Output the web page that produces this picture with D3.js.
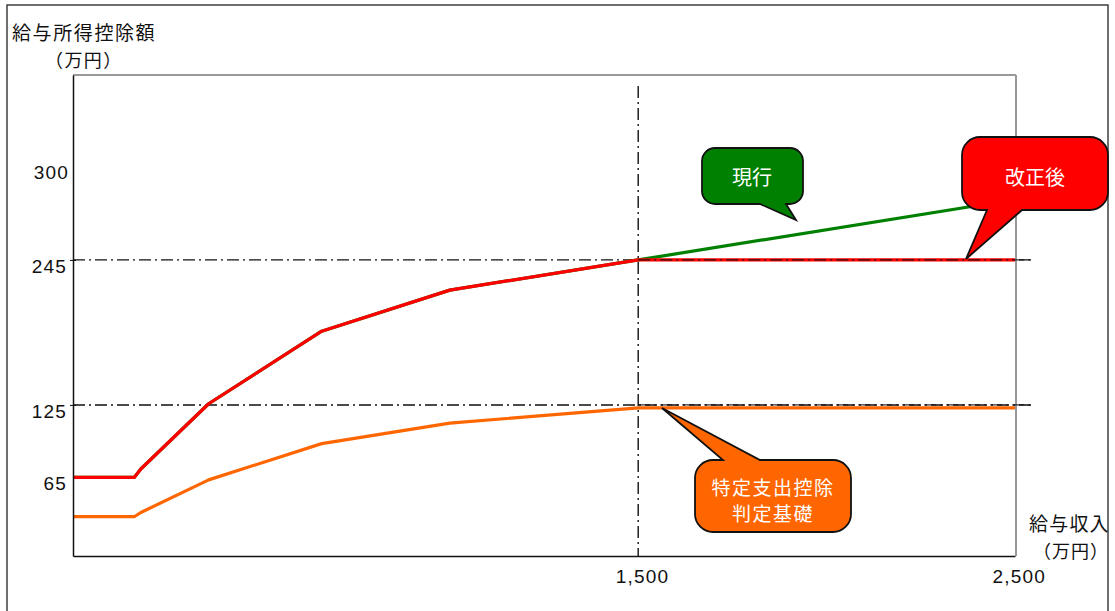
<!DOCTYPE html>
<html>
<head>
<meta charset="utf-8">
<script src="https://cdn.jsdelivr.net/npm/d3@7.9.0/dist/d3.min.js"></script>
<style>
  body { margin: 0; background: #fff; }
  svg { display: block; }
  .jp { font-family: "Noto Sans CJK JP", "Noto Sans", sans-serif; }
  .num { font-family: "Liberation Sans", Arial, sans-serif; letter-spacing: 1.2px; }
</style>
</head>
<body>
<svg id="chart" width="1115" height="611"></svg>
<script>
// income (万円) breakpoints
const incomes = [0, 162.5, 180, 360, 660, 1000, 1500, 2500];
// 給与所得控除額 under current rules (green) and after revision (red)
const currentDeduction = [65, 65, 72, 126, 186, 220, 245, 295];
const revisedDeduction = [65, 65, 72, 126, 186, 220, 245, 245];
// 特定支出控除 判定基礎 (orange)
const judgeBasis = [32.5, 32.5, 36, 63, 93, 110, 122.5, 122.5];

const yTickValues = [65, 125, 245];
const xTickValues = [1500, 2500];
const refLevels = [245, 125];
const refIncome = 1500;

const svg = d3.select('#chart');

const plotLeft = 73, plotRight = 1016, plotTop = 75, plotBottom = 556;
let x = d3.scaleLinear().domain([0, 2500]).range([plotLeft, 1015]);
let y = d3.scaleLinear().domain([0, 398]).range([plotBottom, plotTop]);

// outer frame
svg.append('rect')
  .attr('x', 7).attr('y', 5).attr('width', 1101).attr('height', 620)
  .attr('fill', 'none').attr('stroke', '#222').attr('stroke-width', 1.3);

// plot frame: gray top / right, black axis lines
svg.append('line').attr('x1', plotLeft).attr('x2', plotRight).attr('y1', plotTop).attr('y2', plotTop)
  .attr('stroke', '#999').attr('stroke-width', 2);
svg.append('line').attr('x1', plotRight).attr('x2', plotRight).attr('y1', plotTop).attr('y2', plotBottom)
  .attr('stroke', '#999').attr('stroke-width', 2);

// reference dash-dot lines
const dash = '12,4,2,4';
refLevels.forEach(v => {
  svg.append('line')
    .attr('x1', plotLeft).attr('x2', 1033)
    .attr('y1', y(v)).attr('y2', y(v))
    .attr('stroke', '#111').attr('stroke-width', 1.4)
    .attr('stroke-dasharray', dash);
});
svg.append('line')
  .attr('x1', x(refIncome)).attr('x2', x(refIncome))
  .attr('y1', 86).attr('y2', plotBottom)
  .attr('stroke', '#111').attr('stroke-width', 1.4)
  .attr('stroke-dasharray', dash);

// series lines
function drawLine(values, color) {
  const pts = incomes.map((d, i) => [d, values[i]]);
  svg.append('path')
    .datum(pts)
    .attr('fill', 'none')
    .attr('stroke', color)
    .attr('stroke-width', 3.2)
    .attr('stroke-linejoin', 'round')
    .attr('d', d3.line().x(d => x(d[0])).y(d => y(d[1])));
}
drawLine(judgeBasis, '#ff6600');
drawLine(currentDeduction, '#008000');
drawLine(revisedDeduction, '#ff0000');

// redraw dash-dot over the flat parts (as in the original)
refLevels.forEach(v => {
  svg.append('line')
    .attr('x1', x(refIncome)).attr('x2', 1033)
    .attr('y1', y(v)).attr('y2', y(v))
    .attr('stroke', '#111').attr('stroke-width', 1.2)
    .attr('stroke-dasharray', dash).attr('opacity', 0.85);
});

// axes
const yAxis = d3.axisLeft(y).tickValues(yTickValues).tickSize(0).tickFormat(d3.format(','));
const gy = svg.append('g').attr('transform', `translate(${plotLeft},0)`).call(yAxis);
gy.attr('font-family', null).attr('font-size', null);
gy.select('.domain').attr('stroke', '#111').attr('stroke-width', 1.5);
gy.selectAll('.tick text').attr('class', 'num').attr('font-size', 19).attr('fill', '#111')
  .attr('x', -6).attr('dy', '0.65em');
gy.selectAll('.tick').filter(d => d !== 65).append('line')
  .attr('x1', -3).attr('x2', 3).attr('stroke', '#111');

// the "300" label sits above its nominal level in the original
svg.append('text').attr('class', 'num')
  .attr('x', plotLeft - 4).attr('y', y(300) - 21)
  .attr('dy', '0.35em').attr('text-anchor', 'end')
  .attr('font-size', 19).attr('fill', '#111').text('300');

const xAxis = d3.axisBottom(x).tickValues(xTickValues).tickSize(0).tickFormat(d3.format(','));
const gx = svg.append('g').attr('transform', `translate(0,${plotBottom})`).call(xAxis);
gx.attr('font-family', null).attr('font-size', null);
gx.select('.domain').attr('stroke', '#111').attr('stroke-width', 1.5);
gx.selectAll('.tick text').attr('class', 'num').attr('font-size', 19).attr('fill', '#111')
  .attr('y', 14).attr('dx', '0.2em');

// axis titles
svg.append('text').attr('class', 'jp').attr('x', 12).attr('y', 31)
  .attr('dominant-baseline', 'central').attr('font-size', 19).attr('fill', '#111')
  .attr('letter-spacing', 1.6).text('給与所得控除額');
svg.append('text').attr('class', 'jp').attr('x', 45).attr('y', 59)
  .attr('dominant-baseline', 'central').attr('font-size', 18).attr('fill', '#111')
  .attr('letter-spacing', 1.4).text('（万円）');
svg.append('text').attr('class', 'jp').attr('x', 1029).attr('y', 522)
  .attr('dominant-baseline', 'central').attr('font-size', 19).attr('fill', '#111')
  .attr('letter-spacing', 1.2).text('給与収入');
svg.append('text').attr('class', 'jp').attr('x', 1033).attr('y', 550)
  .attr('dominant-baseline', 'central').attr('font-size', 18).attr('fill', '#111')
  .attr('letter-spacing', 1).text('（万円）');

// callouts
function bubbleBottom(bx, by, w, h, r, b1, b2, tip) {
  const p = d3.path();
  p.moveTo(bx + r, by);
  p.lineTo(bx + w - r, by);
  p.arcTo(bx + w, by, bx + w, by + r, r);
  p.lineTo(bx + w, by + h - r);
  p.arcTo(bx + w, by + h, bx + w - r, by + h, r);
  p.lineTo(b2, by + h);
  p.lineTo(tip[0], tip[1]);
  p.lineTo(b1, by + h);
  p.lineTo(bx + r, by + h);
  p.arcTo(bx, by + h, bx, by + h - r, r);
  p.lineTo(bx, by + r);
  p.arcTo(bx, by, bx + r, by, r);
  p.closePath();
  return p.toString();
}
function bubbleTop(bx, by, w, h, r, b1, b2, tip) {
  const p = d3.path();
  p.moveTo(bx + r, by);
  p.lineTo(b1, by);
  p.lineTo(tip[0], tip[1]);
  p.lineTo(b2, by);
  p.lineTo(bx + w - r, by);
  p.arcTo(bx + w, by, bx + w, by + r, r);
  p.lineTo(bx + w, by + h - r);
  p.arcTo(bx + w, by + h, bx + w - r, by + h, r);
  p.lineTo(bx + r, by + h);
  p.arcTo(bx, by + h, bx, by + h - r, r);
  p.lineTo(bx, by + r);
  p.arcTo(bx, by, bx + r, by, r);
  p.closePath();
  return p.toString();
}

svg.append('path')
  .attr('d', bubbleBottom(702, 148, 101, 56, 13, 760, 786, [796, 220]))
  .attr('fill', '#008000').attr('stroke', '#111').attr('stroke-width', 1.8);
svg.append('text').attr('class', 'jp').attr('x', 752).attr('y', 176)
  .attr('text-anchor', 'middle').attr('dominant-baseline', 'central')
  .attr('font-size', 20).attr('fill', '#fff').text('現行');

svg.append('path')
  .attr('d', bubbleBottom(962, 137, 146, 73, 18, 987, 1022, [966, 259]))
  .attr('fill', '#ff0000').attr('stroke', '#111').attr('stroke-width', 1.8);
svg.append('text').attr('class', 'jp').attr('x', 1035).attr('y', 176)
  .attr('text-anchor', 'middle').attr('dominant-baseline', 'central')
  .attr('font-size', 20).attr('fill', '#fff').text('改正後');

svg.append('path')
  .attr('d', bubbleTop(695, 460, 156, 72, 18, 723, 760, [662, 408]))
  .attr('fill', '#ff6600').attr('stroke', '#111').attr('stroke-width', 1.8);
svg.append('text').attr('class', 'jp').attr('x', 773).attr('y', 486)
  .attr('text-anchor', 'middle').attr('dominant-baseline', 'central')
  .attr('font-size', 19).attr('fill', '#fff').attr('letter-spacing', 1.5).text('特定支出控除');
svg.append('text').attr('class', 'jp').attr('x', 773).attr('y', 512)
  .attr('text-anchor', 'middle').attr('dominant-baseline', 'central')
  .attr('font-size', 19).attr('fill', '#fff').attr('letter-spacing', 1.5).text('判定基礎');
</script>
</body>
</html>
